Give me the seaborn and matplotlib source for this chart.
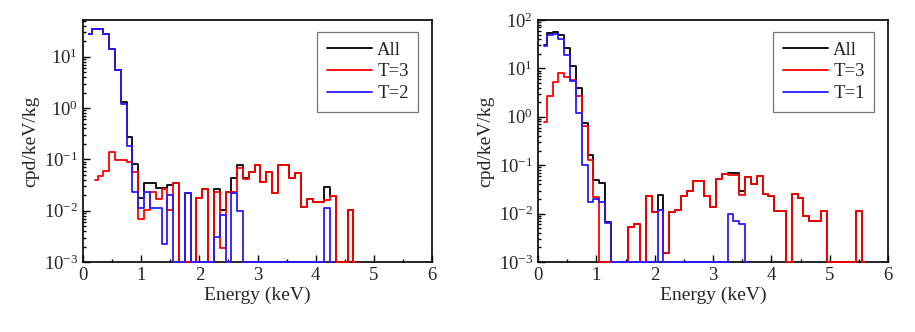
import numpy as np
import pandas as pd
import seaborn as sns
import matplotlib
matplotlib.use('Agg')
import matplotlib.pyplot as plt
from matplotlib.ticker import MultipleLocator, LogLocator, LogFormatterMathtext, NullFormatter

# ---- data (cpd/keV/kg, 0.1 keV bins, 0 = empty bin)
# left panel
left_all = [28, 34, 34, 28, 14, 5.5, 1.3, 0.27, 0.08, 0.018,
            0.034, 0.034, 0.028, 0.028, 0.031, 0.034, 0, 0.022, 0, 0.018,
            0.027, 0, 0.026, 0.0105, 0.023, 0.044, 0.076, 0.043, 0.057, 0.078,
            0.037, 0.057, 0.022, 0.076, 0.076, 0.043, 0.055, 0.012, 0.017, 0.015,
            0.015, 0.029, 0.019, 0, 0, 0.0105, 0]
left_t3 = [0.039, 0.048, 0.059, 0.14, 0.098, 0.098, 0.089, 0.056, 0.0069,
           0.0105, 0.023, 0.017, 0.027, 0.0105, 0.034, 0, 0, 0, 0.018,
           0.027, 0, 0.023, 0.0019, 0.023, 0.023, 0.068, 0.042, 0.056, 0.078,
           0.037, 0.057, 0.022, 0.076, 0.076, 0.043, 0.055, 0.012, 0.017, 0.015,
           0.015, 0.016, 0.019, 0, 0, 0.0105, 0]
left_t2 = [28, 34, 34, 28, 14, 5.4, 1.2, 0.18, 0.023, 0.0115,
           0.023, 0.0115, 0.0115, 0.0022, 0.0205, 0, 0, 0.022, 0, 0,
           0, 0, 0.0031, 0.0083, 0, 0.022, 0.01, 0, 0, 0,
           0, 0, 0, 0, 0, 0, 0, 0, 0, 0,
           0, 0.0115, 0]

# right panel
right_all = [30, 53, 57, 48, 26, 11, 3.9, 0.75, 0.16, 0.05,
             0.043, 0.0068, 0, 0, 0, 0.0053, 0.006, 0, 0.023, 0.0107,
             0.024, 0.0015, 0.0107, 0.0117, 0.023, 0.029, 0.047, 0.047, 0.023, 0.014,
             0.053, 0.066, 0.070, 0.070, 0.030, 0.058, 0.041, 0.061, 0.026, 0.023,
             0.0115, 0.0115, 0, 0.025, 0.021, 0.0091, 0.0069, 0.0069, 0.0112, 0,
             0, 0, 0, 0, 0.0115, 0]
right_t3 = [0.78, 2.7, 5.2, 7.9, 6.7, 5.7, 2.7, 0.64, 0.13, 0.022,
            0, 0, 0, 0, 0, 0.0053, 0.006, 0, 0.023, 0.0107,
            0.0117, 0.0015, 0.0107, 0.0117, 0.023, 0.029, 0.047, 0.047, 0.023, 0.014,
            0.053, 0.066, 0.064, 0.064, 0.024, 0.058, 0.041, 0.061, 0.026, 0.023,
            0.0115, 0.0115, 0, 0.025, 0.021, 0.0091, 0.0069, 0.0069, 0.0112, 0,
            0, 0, 0, 0, 0.0115, 0]
right_t1 = [29, 50, 52, 40, 18.6, 5.5, 1.2, 0.1, 0.017, 0.02,
            0.017, 0.0064, 0, 0, 0, 0, 0, 0, 0, 0,
            0.0118, 0, 0, 0, 0, 0, 0, 0, 0, 0,
            0, 0, 0.0098, 0.0072, 0.0062, 0]

YMIN = 1e-3
colors = {'All': 'black', 'T=3': '#ff0000', 'T=2': '#2a1aff', 'T=1': '#2a1aff'}


def energies(start, n):
    return np.round(start + 0.1 * np.arange(n), 2)


def to_long(series):
    """series: list of (label, first energy, values)"""
    frames = []
    for label, e0, vals in series:
        frames.append(pd.DataFrame({'Energy': energies(e0, len(vals)),
                                    'rate': np.clip(vals, YMIN, None),
                                    'series': label}))
    return pd.concat(frames, ignore_index=True)


panels = [
    (to_long([('All', 0.1, left_all), ('T=3', 0.2, left_t3), ('T=2', 0.1, left_t2)]),
     ['All', 'T=3', 'T=2'], 52),
    (to_long([('All', 0.1, right_all), ('T=3', 0.1, right_t3), ('T=1', 0.1, right_t1)]),
     ['All', 'T=3', 'T=1'], 100),
]

sns.set_style('ticks')
plt.rcParams['font.family'] = ['Liberation Serif', 'DejaVu Serif']
plt.rcParams['mathtext.fontset'] = 'stix'

fig = plt.figure(figsize=(9.15, 3.32), dpi=100)
boxes = [[83 / 915, 1 - 262 / 332, 349 / 915, 242 / 332],
         [538 / 915, 1 - 262 / 332, 350 / 915, 242 / 332]]

for box, (df, order, ymax) in zip(boxes, panels):
    ax = fig.add_axes(box)
    sns.lineplot(ax=ax, data=df, x='Energy', y='rate', hue='series',
                 hue_order=order, palette=colors, estimator=None, sort=False,
                 drawstyle='steps-mid', lw=1.3, legend=False,
                 clip_on=False, zorder=3)
    ax.set_yscale('log')
    ax.set_xlim(0, 6)
    ax.set_ylim(YMIN, ymax)
    ax.xaxis.set_major_locator(MultipleLocator(1))
    ax.xaxis.set_minor_locator(MultipleLocator(0.5))
    ax.yaxis.set_major_locator(LogLocator(base=10, numticks=10))
    ax.yaxis.set_minor_locator(LogLocator(base=10, subs=np.arange(2, 10), numticks=20))
    ax.yaxis.set_major_formatter(LogFormatterMathtext())
    ax.yaxis.set_minor_formatter(NullFormatter())
    ax.tick_params(which='both', direction='in', top=False, right=False,
                   labelsize=13.5, width=1, color='black')
    ax.tick_params(which='major', length=5)
    ax.tick_params(which='minor', length=2.5)
    for sp in ax.spines.values():
        sp.set_color('black')
        sp.set_linewidth(1.2)
    ax.set_xlabel('Energy (keV)', fontsize=14, labelpad=2)
    ax.set_ylabel('cpd/keV/kg', fontsize=14, labelpad=3)

    handles = [plt.Line2D([], [], color=colors[s], lw=1.3) for s in order]
    leg = ax.legend(handles, order, loc='upper right',
                    bbox_to_anchor=(0.96, 0.95), borderaxespad=0,
                    fontsize=13.5, frameon=True, fancybox=False,
                    handlelength=2.4, handletextpad=0.3, labelspacing=0.25,
                    borderpad=0.5)
    leg.get_frame().set_edgecolor('#555555')
    leg.get_frame().set_linewidth(0.9)
    leg.set_zorder(5)

fig.savefig('out.png', dpi=100)
